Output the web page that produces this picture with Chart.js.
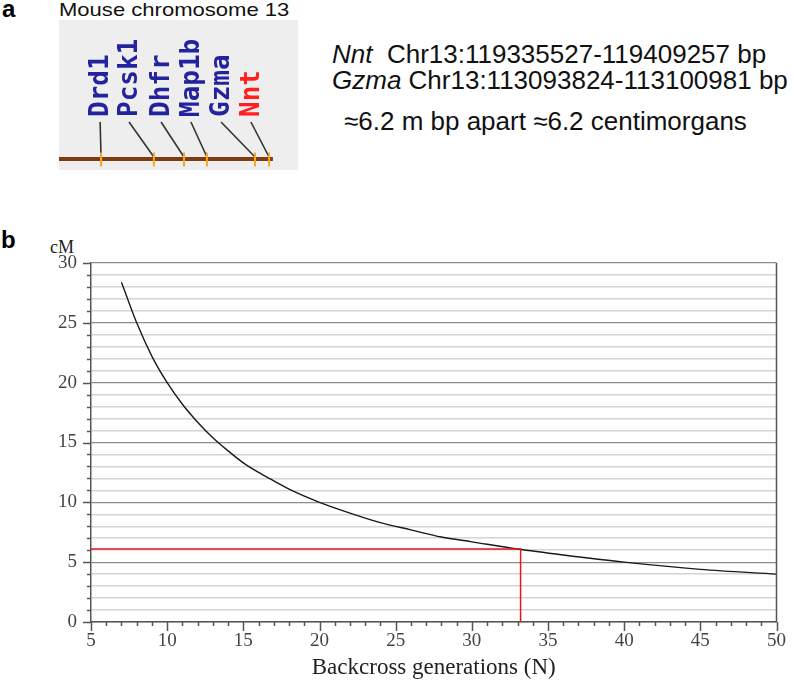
<!DOCTYPE html>
<html>
<head>
<meta charset="utf-8">
<script src="https://cdn.jsdelivr.net/npm/chart.js@4.4.1/dist/chart.umd.min.js"></script>
<style>
  body { margin: 0; background: #fff; width: 794px; height: 682px; position: relative; overflow: hidden; }
  .txt { position: absolute; white-space: nowrap; font-family: "Liberation Sans", Arial, sans-serif; color: #111; transform-origin: left center; }
  .panel { position: absolute; font-family: "Liberation Sans", Arial, sans-serif; font-weight: bold; font-size: 24px; line-height: 24px; }
  canvas { position: absolute; }
</style>
</head>
<body>
<div class="panel" style="left:2px; top:-3px;">a</div>
<div class="panel" style="left:1px; top:228px;">b</div>
<div class="txt" style="left:59px; top:-1px; font-size:19px; line-height:22px; transform:scaleX(1.16);">Mouse chromosome 13</div>
<div class="txt" style="left:332px; top:41px; font-size:26px; line-height:26px;"><i>Nnt</i>&nbsp; Chr13:119335527-119409257 bp</div>
<div class="txt" style="left:332px; top:67px; font-size:26px; line-height:26px;"><i>Gzma</i> Chr13:113093824-113100981 bp</div>
<div class="txt" style="left:344px; top:108px; font-size:26px; line-height:26px;">≈6.2 m bp apart ≈6.2 centimorgans</div>
<div class="txt" style="left:50px; top:236px; font-size:18px; line-height:22px; font-family:'Liberation Serif','Times New Roman',serif; color:#222;">cM</div>

<canvas id="chart_a" width="300" height="180" style="left:0; top:0;"></canvas>
<canvas id="chart_b" width="794" height="452" style="left:0; top:230px;"></canvas>

<script>
// panel a: genes along the chromosome (map units)
const genes = ["Drd1", "Pcsk1", "Dhfr", "Map1b", "Gzma", "Nnt"];
const genePos = [17.6, 39.7, 52.3, 61.9, 82.0, 87.9];
const geneColor = ["#23239f", "#23239f", "#23239f", "#23239f", "#23239f", "#ff1f1f"];

// panel b: cM between markers vs backcross generations
const generations = [7, 8, 9, 10, 11, 12, 13, 14, 15, 16, 17, 18, 20, 22, 24, 26, 28, 30, 33, 36, 40, 45, 50];
const centimorgans = [28.4, 25, 22.2, 20, 18.2, 16.7, 15.4, 14.3, 13.3, 12.5, 11.8, 11.1, 10, 9.1, 8.3, 7.7, 7.1, 6.7, 6.1, 5.6, 5, 4.4, 4];
const markerGen = 33.2;
const markerCM = 6.1;

// layout of the label fan in panel a
const labelPos = [17.2, 29.3, 42.7, 55.2, 67.8, 80.3];
const chromEnd = 89.5;
const chromY = 11;
const leaderTop = 48;
const leaderBottom = 13;
const labelStart = 53;

const boxBg = {
  id: "boxBg",
  beforeDraw(chart) {
    const a = chart.chartArea;
    const ctx = chart.ctx;
    ctx.save();
    ctx.fillStyle = "#eeeeee";
    ctx.fillRect(a.left, a.top, a.right - a.left, a.bottom - a.top);
    ctx.restore();
  },
};

const geneLabels = {
  id: "geneLabels",
  afterDatasetsDraw(chart) {
    const ctx = chart.ctx;
    const x = chart.scales.x;
    const y = chart.scales.y;
    ctx.save();
    ctx.font = "bold 26px 'DejaVu Sans Mono', monospace";
    ctx.textAlign = "left";
    ctx.textBaseline = "middle";
    genes.forEach(function (g, i) {
      ctx.save();
      ctx.translate(x.getPixelForValue(labelPos[i]), y.getPixelForValue(labelStart));
      ctx.rotate(-Math.PI / 2);
      ctx.fillStyle = geneColor[i];
      ctx.fillText(g, 0, 1);
      ctx.restore();
    });
    ctx.restore();
  },
};

let datasets_a = [
  {
    label: "markers",
    data: genePos.map(function (p) { return { x: p, y: chromY - 0.5 }; }),
    pointStyle: "line",
    rotation: 90,
    radius: 7,
    borderColor: "#f5a623",
    borderWidth: 2,
    showLine: false,
  },
  {
    label: "chromosome",
    data: [{ x: 0, y: chromY }, { x: chromEnd, y: chromY }],
    showLine: true,
    borderColor: "#7f3c12",
    borderWidth: 4,
    pointRadius: 0,
  },
];
genes.forEach(function (g, i) {
  datasets_a.push({
    label: g,
    data: [{ x: labelPos[i], y: leaderTop }, { x: genePos[i], y: leaderBottom }],
    showLine: true,
    borderColor: "#333",
    borderWidth: 1.6,
    pointRadius: 0,
  });
});

new Chart(document.getElementById("chart_a").getContext("2d"), {
  type: "scatter",
  data: { datasets: datasets_a },
  options: {
    responsive: false,
    animation: false,
    layout: { autoPadding: false, padding: { left: 59, right: 2, top: 20, bottom: 10 } },
    plugins: { legend: { display: false }, tooltip: { enabled: false } },
    scales: {
      x: { display: false, min: 0, max: 100 },
      y: { display: false, min: 0, max: 150 },
    },
  },
  plugins: [boxBg, geneLabels],
});

// tick marks + right border for panel b
const axisTicks = {
  id: "axisTicks",
  afterDraw(chart) {
    const ctx = chart.ctx;
    const x = chart.scales.x;
    const y = chart.scales.y;
    const a = chart.chartArea;
    ctx.save();
    ctx.strokeStyle = "#555";
    ctx.lineWidth = 1.5;
    ctx.beginPath();
    for (let v = 0; v <= 30; v++) {
      const py = Math.round(y.getPixelForValue(v)) + 0.5;
      ctx.moveTo(a.left - (v % 5 === 0 ? 8 : 4), py);
      ctx.lineTo(a.left, py);
    }
    for (let v = 5; v <= 50; v++) {
      const px = Math.round(x.getPixelForValue(v)) + 0.5;
      ctx.moveTo(px, a.bottom);
      ctx.lineTo(px, a.bottom + (v % 5 === 0 ? 9 : 4));
    }
    ctx.moveTo(a.right, a.top);
    ctx.lineTo(a.right, a.bottom);
    ctx.stroke();
    ctx.restore();
  },
};

const serif = "'Liberation Serif', 'Times New Roman', serif";

new Chart(document.getElementById("chart_b").getContext("2d"), {
  type: "scatter",
  data: {
    datasets: [
      {
        label: "marker",
        data: [{ x: 5, y: markerCM }, { x: markerGen, y: markerCM }, { x: markerGen, y: 0 }],
        showLine: true,
        borderColor: "#e8141b",
        borderWidth: 1.5,
        pointRadius: 0,
      },
      {
        label: "cM",
        data: generations.map(function (n, i) { return { x: n, y: centimorgans[i] }; }),
        showLine: true,
        cubicInterpolationMode: "monotone",
        borderColor: "#1a1a1a",
        borderWidth: 1.4,
        pointRadius: 0,
      },
    ],
  },
  options: {
    responsive: false,
    animation: false,
    layout: { autoPadding: false, padding: { left: 0, right: 17, top: 33, bottom: 0 } },
    plugins: { legend: { display: false }, tooltip: { enabled: false } },
    scales: {
      x: {
        type: "linear",
        min: 5,
        max: 50,
        afterFit: function (s) { s.height = 60; },
        grid: { display: false, drawTicks: false },
        border: { display: true, color: "#555", width: 1.5 },
        ticks: {
          stepSize: 5,
          padding: 8,
          color: "#444",
          font: { family: serif, size: 19 },
        },
        title: {
          display: true,
          text: "Backcross generations (N)",
          color: "#222",
          font: { family: serif, size: 23 },
          padding: { top: 0, bottom: 0 },
        },
      },
      y: {
        min: 0,
        max: 30,
        afterFit: function (s) { s.width = 91; },
        grid: {
          drawTicks: false,
          color: function (c) { return c.tick && c.tick.value % 5 === 0 ? "#8c8c8c" : "#d4d4d4"; },
          lineWidth: function (c) { return c.tick && c.tick.value % 5 === 0 ? 1.2 : 1.5; },
        },
        border: { display: true, color: "#555", width: 1.5 },
        ticks: {
          stepSize: 1,
          autoSkip: false,
          padding: 14,
          color: "#444",
          font: { family: serif, size: 19 },
          callback: function (v) { return v % 5 === 0 ? v : ""; },
        },
      },
    },
  },
  plugins: [axisTicks],
});
</script>
</body>
</html>
